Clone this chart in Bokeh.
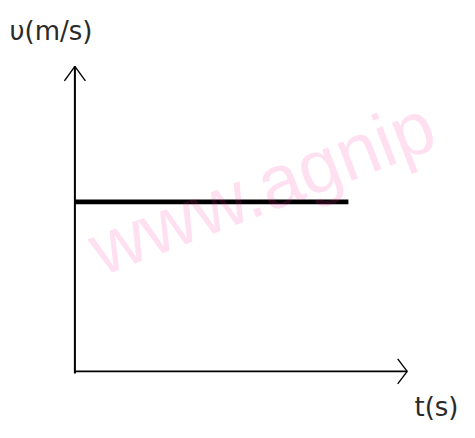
import math
from bokeh.plotting import figure
from bokeh.models import Range1d, Label
from bokeh.embed import file_html
from bokeh.resources import INLINE

# ---- data (velocity-time graph: constant velocity) ----
t_line = [0, 10]          # s
v_line = [5, 5]           # m/s (constant)
t_axis_max = 12.15        # extent of t axis (arrow tip)
v_axis_max = 9.0          # extent of v axis (arrow tip)
y_label = "υ(m/s)"
x_label = "t(s)"
watermark = "www.agnip"

# ---- scale / layout ----
W, H = 459, 422
px_t = 27.35              # pixels per second
px_v = 33.9               # pixels per m/s
ox, oy = 74.4, 370.9      # origin in frame pixels (from left, from top)

p = figure(width=W, height=H, output_backend="svg", toolbar_location=None,
           x_range=Range1d(-ox / px_t, (W - ox) / px_t),
           y_range=Range1d(-(H - oy) / px_v, oy / px_v),
           x_axis_type=None, y_axis_type=None, min_border=0)
p.grid.visible = False
p.outline_line_color = None
p.background_fill_color = "white"
p.border_fill_color = "white"

# axes lines
p.line([0, 0], [-0.06, v_axis_max], line_color="black", line_width=2)
p.line([0, t_axis_max], [0, 0], line_color="black", line_width=1.8)

# arrow heads (open chevrons), sizes in pixels converted to data units
vx, vy = 10.5 / px_t, 14.5 / px_v
hx, hy = 9.5 / px_t, 12.5 / px_v
p.multi_line(xs=[[-vx, 0, vx], [t_axis_max - hx, t_axis_max, t_axis_max - hx]],
             ys=[[v_axis_max - vy, v_axis_max, v_axis_max - vy], [hy, 0, -hy]],
             line_color="black", line_width=1.4)

# constant velocity line
p.line(t_line, v_line, line_color="black", line_width=4.8, line_cap="butt")

# labels
p.add_layout(Label(x=9, y=377, x_units="screen", y_units="screen", text=y_label,
                   text_baseline="bottom",
                   text_font="DejaVu Sans", text_font_size="26px", text_color="#2a2a2a"))
p.add_layout(Label(x=458, y=1, x_units="screen", y_units="screen", text=x_label,
                   text_align="right", text_baseline="bottom",
                   text_font="DejaVu Sans", text_font_size="26px", text_color="#2a2a2a"))

# watermark
p.add_layout(Label(x=107, y=131, x_units="screen", y_units="screen", text=watermark,
                   angle=math.radians(21), text_baseline="bottom",
                   text_font="Liberation Sans",
                   text_font_size="75px", text_color="#ff32a0", text_alpha=0.15))

open("out.html", "w").write(file_html(p, INLINE))
